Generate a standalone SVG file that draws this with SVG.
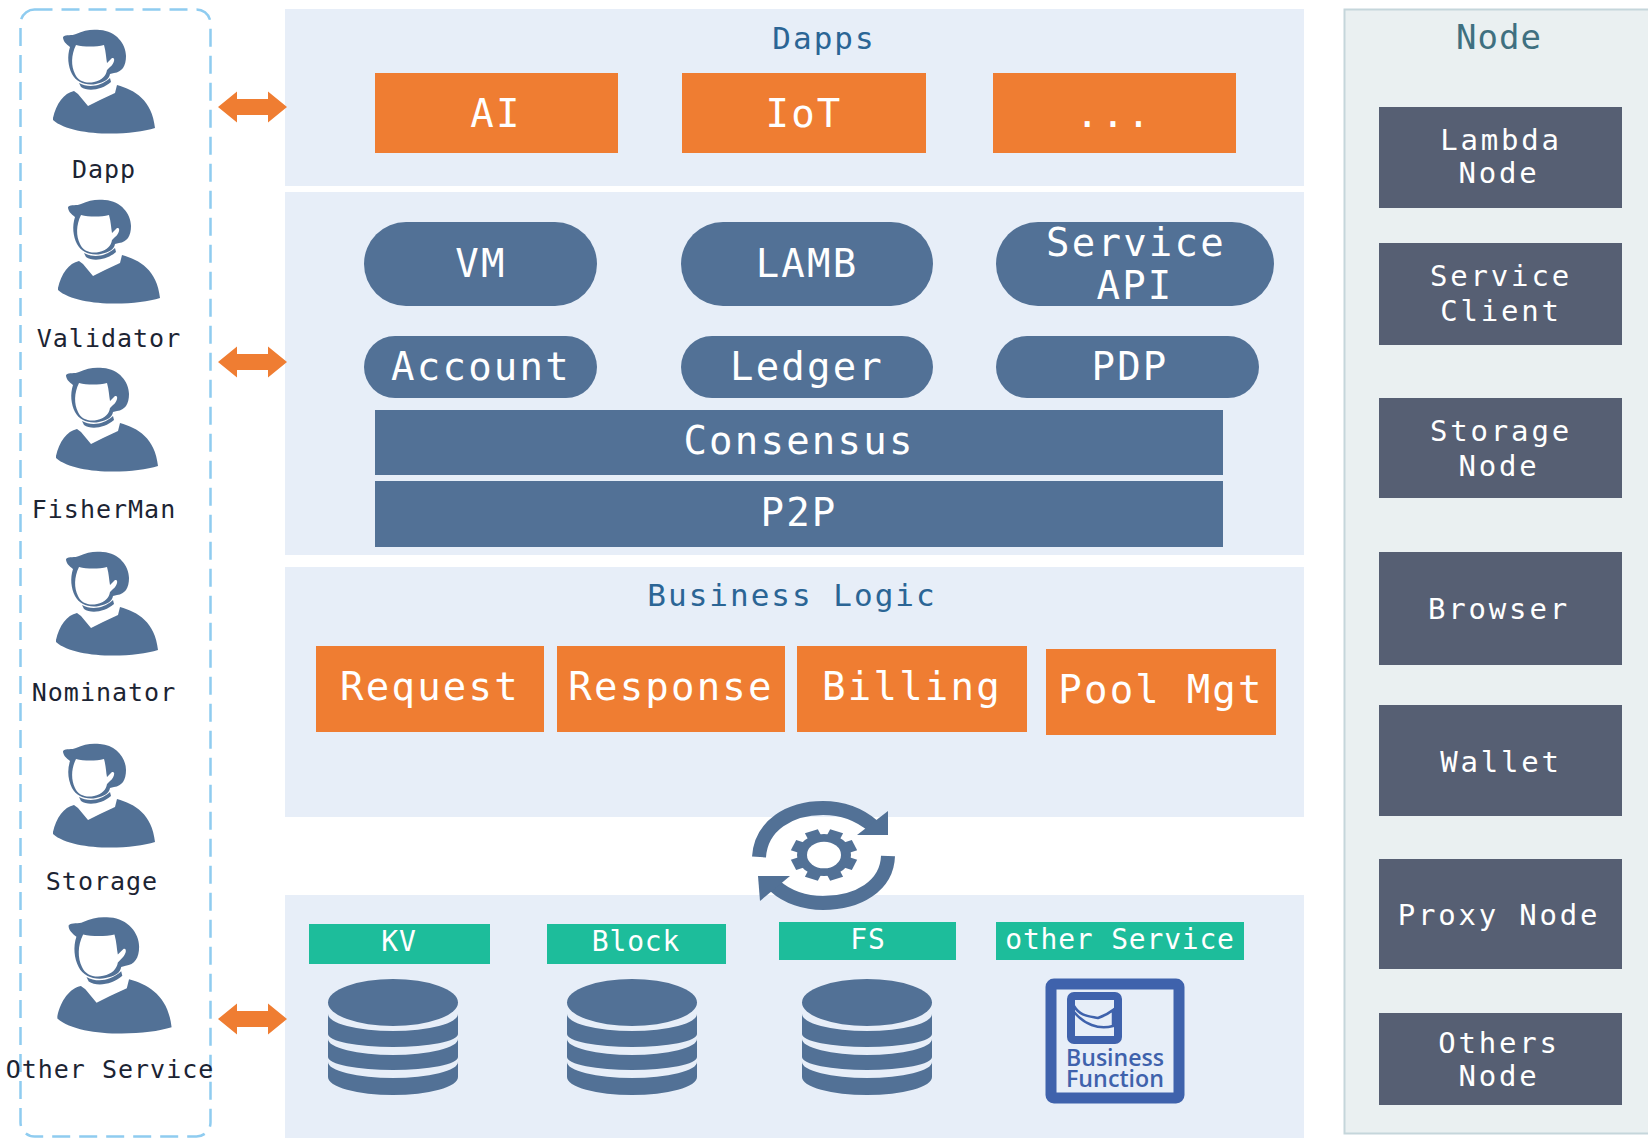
<svg xmlns="http://www.w3.org/2000/svg" width="1648" height="1138" viewBox="0 0 1648 1138">
<style>
text{font-family:"DejaVu Sans Mono",monospace;text-anchor:middle}
.panel{fill:#e7eef8}
.or{fill:#ef7d32}
.st{fill:#527196}
.nb{fill:#565f73}
.gr{fill:#1dbd9b}
.big{font-size:39px;letter-spacing:2.200px;fill:#fff}
.nt{font-size:29px;letter-spacing:2.800px;fill:#fff}
.gt{font-size:28px;letter-spacing:.8px;fill:#fff}
.pl{font-size:25px;letter-spacing:1px;fill:#1c2433}
.tt{font-size:31px;letter-spacing:2px;fill:#2b6595}
.bf{font-family:"Open Sans","Liberation Sans",sans-serif;font-weight:600;font-size:24px;fill:#3f62ac;text-anchor:start}
</style>
<defs>
<symbol id="person" overflow="visible" viewBox="0 0 170 140" width="170" height="140">
<path class="st" d="M63 37C66 34 72 36 76 34C84 30 92 29 100 30C116 31 126 44 126 56C126 66 122 72 114 73L110 74C109 80 104 82 96 84C86 86 76 82 72 74C68 66 67 56 70 47C66 44 63 41 63 37Z"/>
<path fill="#fff" d="M76 45C84 47 96 47 104 45C106 52 106 58 107 63L112 58C116 57 114 64 110 67L107 70C106 76 102 80 94 82C86 84 78 81 75 74C71 66 71 55 76 45Z"/>
<path class="st" d="M79 83C88 88 100 87 110 78L111 82C102 90 88 92 81 87Z"/>
<path class="st" d="M53 118C56 104 64 93 74 91L78 94L88 106L100 100L115 93L117 85C135 90 152 100 155 128C130 136 72 137 53 120Z"/>
</symbol>
<symbol id="db" overflow="visible" viewBox="0 0 132 116" width="132" height="116">
<g class="st" transform="translate(66,0)">
<ellipse cx="0" cy="23.500" rx="65" ry="23.500"/>
<path d="M-65 35A65 17 0 0 0 65 35V55A65 13 0 0 1 -65 55Z"/>
<path d="M-65 60A65 16 0 0 0 65 60V78A65 13 0 0 1 -65 78Z"/>
<path d="M-65 83A65 16 0 0 0 65 83V98A65 18 0 0 1 -65 98Z"/>
</g>
</symbol>
<path id="arrow" class="or" d="M0 0L19 -15.500V-8H50V-15.500L69 0L50 15.500V8H19V15.500Z"/>
</defs>
<rect width="1648" height="1138" fill="#fff"/>
<g id="actors-frame"><rect x="20.500" y="9.500" width="190" height="1127" rx="14" fill="none" stroke="#8fccf0" stroke-width="2.500" stroke-dasharray="18 9"/></g>

<g id="panel-dapps"><rect class="panel" x="285" y="9" width="1019" height="177"/><text class="tt" x="824" y="49">Dapps</text></g>
<g id="panel-core"><rect class="panel" x="285" y="192" width="1019" height="363"/></g>
<g id="panel-logic"><rect class="panel" x="285" y="567" width="1019" height="250"/><text class="tt" x="792" y="606">Business Logic</text></g>
<g id="panel-storage"><rect class="panel" x="285" y="895" width="1019" height="243"/></g>
<g id="panel-node"><rect x="1344.500" y="9.500" width="320" height="1124" fill="#eaf0f1" stroke="#c5d6db" stroke-width="2"/><text x="1499" y="49" style="font-size:34px;letter-spacing:1px;fill:#3f7080">Node</text></g>

<g id="dapp"><use href="#person"/><text class="pl" x="104" y="178">Dapp</text></g>
<g id="validator"><use href="#person" x="5" y="170"/><text class="pl" x="109" y="347">Validator</text></g>
<g id="fisherman"><use href="#person" x="3" y="338"/><text class="pl" x="104" y="518">FisherMan</text></g>
<g id="nominator"><use href="#person" x="3" y="522"/><text class="pl" x="104" y="701">Nominator</text></g>
<g id="storage"><use href="#person" y="714"/><text class="pl" x="102" y="890">Storage</text></g>
<g id="other-service"><g transform="translate(-2,884) scale(1.12)"><use href="#person"/></g><text class="pl" x="110" y="1078">Other Service</text></g>

<g id="connectors">
<use href="#arrow" x="218" y="107"/>
<use href="#arrow" x="218" y="362"/>
<use href="#arrow" x="218" y="1019"/>
</g>

<g id="ai"><rect class="or" x="375" y="73" width="243" height="80"/><text class="big" x="496" y="127">AI</text></g>
<g id="iot"><rect class="or" x="682" y="73" width="244" height="80"/><text class="big" x="804" y="127">IoT</text></g>
<g id="more"><rect class="or" x="993" y="73" width="243" height="80"/><text class="big" x="1114" y="127">...</text></g>

<g id="vm"><rect class="st" x="364" y="222" width="233" height="84" rx="42"/><text class="big" x="481" y="277">VM</text></g>
<g id="lamb"><rect class="st" x="681" y="222" width="252" height="84" rx="42"/><text class="big" x="807" y="277">LAMB</text></g>
<g id="service-api"><rect class="st" x="996" y="222" width="278" height="84" rx="42"/><text class="big" x="1136" y="256">Service</text><text class="big" x="1135" y="299">API</text></g>
<g id="account"><rect class="st" x="364" y="336" width="233" height="62" rx="31"/><text class="big" x="481" y="380">Account</text></g>
<g id="ledger"><rect class="st" x="681" y="336" width="252" height="62" rx="31"/><text class="big" x="807" y="380">Ledger</text></g>
<g id="pdp"><rect class="st" x="996" y="336" width="263" height="62" rx="31"/><text class="big" x="1130" y="380">PDP</text></g>
<g id="consensus"><rect class="st" x="375" y="410" width="848" height="65"/><text class="big" x="799" y="454">Consensus</text></g>
<g id="p2p"><rect class="st" x="375" y="481" width="848" height="66"/><text class="big" x="799" y="526">P2P</text></g>

<g id="request"><rect class="or" x="316" y="646" width="228" height="86"/><text class="big" x="430" y="700">Request</text></g>
<g id="response"><rect class="or" x="557" y="646" width="228" height="86"/><text class="big" x="671" y="700">Response</text></g>
<g id="billing"><rect class="or" x="797" y="646" width="230" height="86"/><text class="big" x="912" y="700">Billing</text></g>
<g id="pool-mgt"><rect class="or" x="1046" y="649" width="230" height="86"/><text class="big" x="1161" y="703">Pool Mgt</text></g>

<g id="sync-icon">
<g fill="none" stroke="#527196" stroke-width="14">
<path d="M759 857C761 825 790 808 823 808C842 808 860 815 873 826"/>
<path d="M888 856C887 886 858 903 823 903C805 903 787 897 775 886"/>
</g>
<path class="st" d="M888 811V835H857Z"/>
<path class="st" d="M758 876H790L760 901Z"/>
<g transform="translate(824,855) scale(1,.78)">
<circle r="27" class="st"/>
<g class="st">
<rect x="-7" y="-33" width="14" height="66" transform="rotate(22.500)"/>
<rect x="-7" y="-33" width="14" height="66" transform="rotate(67.500)"/>
<rect x="-7" y="-33" width="14" height="66" transform="rotate(112.500)"/>
<rect x="-7" y="-33" width="14" height="66" transform="rotate(157.500)"/>
</g>
<circle r="17" fill="#fff"/>
</g>
</g>

<g id="kv"><rect class="gr" x="309" y="924" width="181" height="40"/><text class="gt" x="399" y="951">KV</text><use href="#db" x="327" y="979"/></g>
<g id="block"><rect class="gr" x="547" y="924" width="179" height="40"/><text class="gt" x="636" y="951">Block</text><use href="#db" x="566" y="979"/></g>
<g id="fs"><rect class="gr" x="779" y="922" width="177" height="38"/><text class="gt" x="868" y="949">FS</text><use href="#db" x="801" y="979"/></g>
<g id="other-svc"><rect class="gr" x="996" y="922" width="248" height="38"/><text class="gt" x="1120" y="949">other Service</text>
<rect x="1051" y="984" width="128" height="114" rx="3" fill="none" stroke="#3f62ac" stroke-width="11"/>
<rect x="1071" y="996" width="47" height="44" rx="3" fill="none" stroke="#3f62ac" stroke-width="8"/>
<path d="M1074 1006C1080 1016 1088 1016 1098 1018C1104 1016 1108 1014 1113 1010V1026C1098 1030 1084 1024 1074 1012" fill="none" stroke="#3f62ac" stroke-width="2.500"/>
<text class="bf" x="1066" y="1066" textLength="98" lengthAdjust="spacingAndGlyphs">Business</text>
<text class="bf" x="1066" y="1087" textLength="98" lengthAdjust="spacingAndGlyphs">Function</text></g>

<g id="lambda-node"><rect class="nb" x="1379" y="107" width="243" height="101"/><text class="nt" x="1501" y="150">Lambda</text><text class="nt" x="1499" y="183">Node</text></g>
<g id="service-client"><rect class="nb" x="1379" y="243" width="243" height="102"/><text class="nt" x="1501" y="286">Service</text><text class="nt" x="1501" y="321">Client</text></g>
<g id="storage-node"><rect class="nb" x="1379" y="398" width="243" height="100"/><text class="nt" x="1501" y="441">Storage</text><text class="nt" x="1499" y="476">Node</text></g>
<g id="browser"><rect class="nb" x="1379" y="552" width="243" height="113"/><text class="nt" x="1499" y="619">Browser</text></g>
<g id="wallet"><rect class="nb" x="1379" y="705" width="243" height="111"/><text class="nt" x="1501" y="772">Wallet</text></g>
<g id="proxy-node"><rect class="nb" x="1379" y="859" width="243" height="110"/><text class="nt" x="1499" y="925">Proxy Node</text></g>
<g id="others-node"><rect class="nb" x="1379" y="1013" width="243" height="92"/><text class="nt" x="1499" y="1053">Others</text><text class="nt" x="1499" y="1086">Node</text></g>
</svg>
